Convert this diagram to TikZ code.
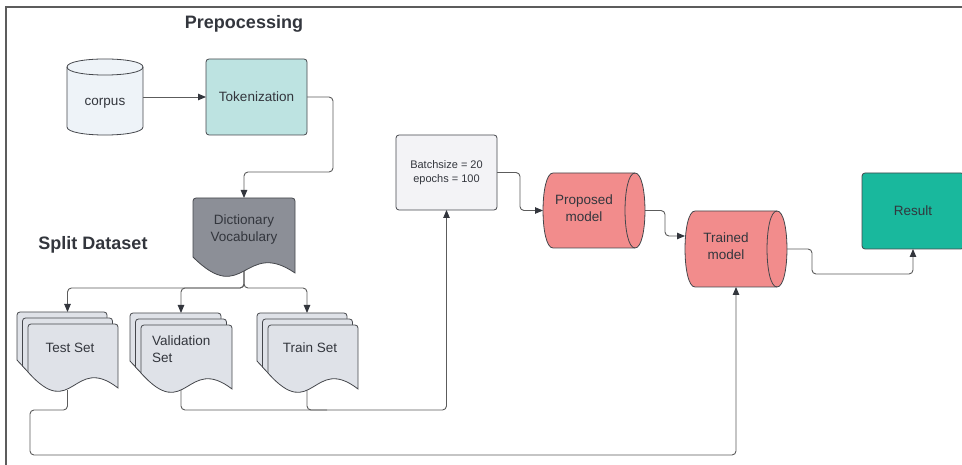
\documentclass[tikz,border=0pt]{standalone}
\usepackage{fontspec}
\setmainfont{Liberation Sans}
\usetikzlibrary{arrows.meta,calc}
\definecolor{linec}{HTML}{5C5C5C}
\definecolor{arrowc}{HTML}{33363D}
\definecolor{edgec}{HTML}{45474C}
\definecolor{txtc}{HTML}{33363D}
\definecolor{corpusfill}{HTML}{EEF3F8}
\definecolor{tokfill}{HTML}{BDE3E1}
\definecolor{dictfill}{HTML}{8C8F97}
\definecolor{stackfill}{HTML}{DFE2E8}
\definecolor{batchfill}{HTML}{F3F3F6}
\definecolor{modelfill}{HTML}{F28C8C}
\definecolor{resfill}{HTML}{19B89D}
\pgfdeclarelayer{bg}
\pgfsetlayers{bg,main}
\newcommand\docshape[5]{%
  \draw[docline, fill=#5] (#1+#3,#2+#4) .. controls (#1+0.5*#3,#2+#4-35) and (#1+0.5*#3,#2+#4+35) .. (#1,#2+#4-16) [rounded corners=3pt] -- (#1,#2) -- (#1+#3,#2) [sharp corners] -- (#1+#3,#2+#4) -- cycle;}
\newcommand\docstack[5]{%
  \docshape{#1}{#2}{#3}{#4}{#5}%
  \docshape{#1+5.5}{#2+6}{#3}{#4}{#5}%
  \docshape{#1+11}{#2+12}{#3}{#4}{#5}}
\newcommand\hcyl[5]{%
  \draw[docline, fill=#5] (#1+10,#2) -- (#3-10,#2) .. controls (#3+3.3,#2) and (#3+3.3,#4) .. (#3-10,#4) -- (#1+10,#4) .. controls (#1-3.3,#4) and (#1-3.3,#2) .. cycle;
  \draw[docline] (#3-10,#2) .. controls (#3-23.3,#2) and (#3-23.3,#4) .. (#3-10,#4);}
\begin{document}
\begin{tikzpicture}[x=1pt,y=-1pt,
  docline/.style={draw=edgec, line width=0.8pt},
  area/.style={draw=none, inner sep=0pt, outer sep=0pt},
  rbox/.style={draw=edgec, line width=0.8pt, rounded corners=3pt, inner sep=0pt, outer sep=0pt, text=txtc, font=\fontsize{13.5}{17}\selectfont, align=center},
  lbl/.style={text=txtc, font=\fontsize{13.5}{17}\selectfont, align=center, inner sep=0pt},
  title/.style={text=txtc, font=\fontsize{18}{22}\selectfont\bfseries, inner sep=0pt},
  conn/.style={draw=linec, line width=0.9pt, rounded corners=4pt},
  arr/.style={conn, -{Triangle[length=8pt,width=6.5pt,color=arrowc]}}
]
\useasboundingbox (0,0) rectangle (962,465);
\draw[draw=linec, line width=1.4pt] (6,466) -- (6,7) -- (963,7);

% titles
\node[title] (ttlpre) at (244,24) {Prepocessing};
\node[title] (ttlsplit) at (93,245) {Split Dataset};

% corpus cylinder
\draw[docline, fill=corpusfill] (67,67) -- (67,127) .. controls (67,137.7) and (143,137.7) .. (143,127) -- (143,67) .. controls (143,56.3) and (67,56.3) .. cycle;
\draw[docline] (67,67) .. controls (67,77.7) and (143,77.7) .. (143,67);
\node[area, minimum width=76pt, minimum height=76pt] (corpus) at (105,97) {};
\node[lbl] (corpustxt) at (105,103) {corpus};

% tokenization
\node[rbox, fill=tokfill, minimum width=101pt, minimum height=76pt] (tok) at (256.5,97) {Tokenization};

% dictionary
\docshape{193}{198}{102}{75}{dictfill}
\node[area, minimum width=102pt, minimum height=72pt] (dict) at (244,234) {};
\node[lbl, text=txtc] (dicttxt) at (244,230) {Dictionary\\Vocabulary};

% stacks
\docstack{17}{312}{90}{64}{stackfill}
\node[area, minimum width=101pt, minimum height=78pt] (test) at (67.5,351) {};
\node[lbl] (testtxt) at (70,348) {Test Set};

\docstack{130}{313}{91}{64}{stackfill}
\node[area, minimum width=102pt, minimum height=77pt] (val) at (181,351.5) {};
\node[lbl, anchor=west, align=left] (valtxt) at (152,349) {Validation\\Set};

\docstack{257}{313}{90}{64}{stackfill}
\node[area, minimum width=100pt, minimum height=77pt] (train) at (307,351.5) {};
\node[lbl] (traintxt) at (310,348) {Train Set};

% batch box
\node[rbox, fill=batchfill, minimum width=101pt, minimum height=75pt, font=\fontsize{11}{13.5}\selectfont] (batch) at (446.5,172.5) {Batchsize = 20\\epochs = 100};

% models
\hcyl{543}{173}{645}{248}{modelfill}
\node[area, minimum width=102pt, minimum height=75pt] (prop) at (594,210.5) {};
\node[lbl] (proptxt) at (584,208.5) {Proposed\\model};

\hcyl{685}{211}{787}{287}{modelfill}
\node[area, minimum width=102pt, minimum height=76pt] (trained) at (736,249) {};
\node[lbl] (trainedtxt) at (726,246) {Trained\\model};

% result
\node[rbox, fill=resfill, minimum width=102pt, minimum height=76pt] (result) at (913,211) {Result};

\begin{pgfonlayer}{bg}
\draw[arr] (corpus.east) -- (tok.west);
\draw[arr] (tok.east) -- ++(26,0) |- ($(dict.north)+(0,-26)$) -- (dict.north);
\draw[arr] (dict.south) -- ++(0,18) -| (test.north);
\draw[arr] (dict.south) -- ++(0,18) -| (val.north);
\draw[arr] (dict.south) -- ++(0,18) -| (train.north);
\draw[arr] (test.south) -- ++(0,20) -| (30,455) -| (trained.south);
\draw[arr] (val.south) -- ++(0,20) -| (batch.south);
\draw[conn] (train.south) -- ++(0,20) -- ++(20,0);
\draw[arr] (batch.east) -- ++(23,0) |- (prop.west);
\draw[arr] (prop.east) -- ++(20,0) |- ($(trained.west)+(0,-13)$);
\draw[arr] (trained.east) -- ++(25,0) -- ++(0,25) -| (result.south);
\end{pgfonlayer}
\end{tikzpicture}
\end{document}
